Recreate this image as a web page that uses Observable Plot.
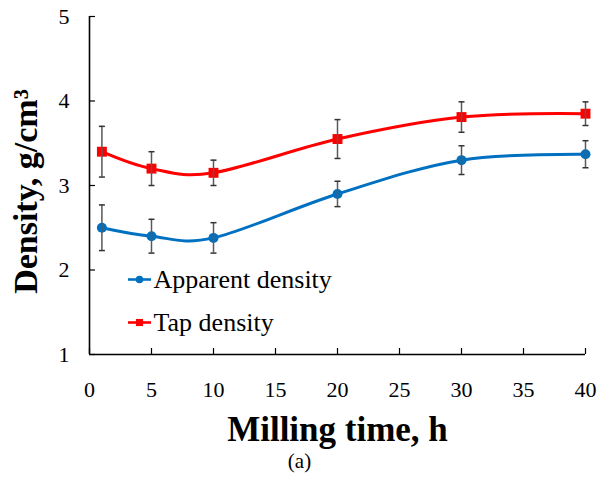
<!DOCTYPE html>
<html>
<head>
<meta charset="utf-8">
<script src="https://cdn.jsdelivr.net/npm/d3@7"></script>
<script src="https://cdn.jsdelivr.net/npm/@observablehq/plot@0.6"></script>
<style>
  html, body { margin: 0; padding: 0; background: #fff; }
</style>
</head>
<body>
<div id="chart"></div>
<script>
// Data
const hours = [1, 5, 10, 20, 30, 40];
const apparent = [2.50, 2.40, 2.38, 2.90, 3.30, 3.37];
const apparentErr = [0.27, 0.20, 0.18, 0.15, 0.17, 0.16];
const tap = [3.40, 3.20, 3.15, 3.55, 3.81, 3.85];
const tapErr = [0.30, 0.20, 0.15, 0.23, 0.18, 0.14];
const xTicks = [0, 5, 10, 15, 20, 25, 30, 35, 40];
const yTicks = [1, 2, 3, 4, 5];
const seriesNames = ["Apparent density", "Tap density"];
const xTitle = "Milling time, h";
const yTitle = "Density, g/cm³";
const caption = "(a)";

const blue = "#0070C0";
const red = "#FF0000";
const errColor = "#595959";

const rowsA = hours.map((h, i) => ({h, v: apparent[i], e: apparentErr[i]}));
const rowsT = hours.map((h, i) => ({h, v: tap[i], e: tapErr[i]}));

const capSymbol = {draw(ctx) { ctx.moveTo(-3, 0); ctx.lineTo(3, 0); }};
const swatchLine = {draw(ctx) { ctx.moveTo(-11.5, 0); ctx.lineTo(11.5, 0); }};

const chart = Plot.plot({
  width: 597,
  height: 479,
  marginLeft: 89,
  marginRight: 12,
  marginTop: 16,
  marginBottom: 125,
  x: {domain: [xTicks[0], xTicks[xTicks.length - 1]]},
  y: {domain: [yTicks[0], yTicks[yTicks.length - 1]]},
  style: {fontFamily: "'Liberation Serif', 'Times New Roman', serif", background: "white", overflow: "visible", color: "black"},
  marks: [
    Plot.axisX({ticks: xTicks, tickFormat: d3.format("d"), tickSize: -6, tickPadding: 33, fontSize: 22, label: null, strokeWidth: 1.2}),
    Plot.axisY({ticks: yTicks, tickFormat: d3.format("d"), tickSize: -6, tickPadding: 26, fontSize: 22, label: null, strokeWidth: 1.2}),
    Plot.ruleX([xTicks[0]], {stroke: "black", strokeWidth: 1.6}),
    Plot.ruleY([yTicks[0]], {stroke: "black", strokeWidth: 1.6}),
    // lines
    Plot.line(rowsA, {x: "h", y: "v", stroke: blue, strokeWidth: 3, curve: "cardinal"}),
    Plot.line(rowsT, {x: "h", y: "v", stroke: red, strokeWidth: 3, curve: "cardinal"}),
    // markers
    Plot.dot(rowsA, {x: "h", y: "v", fill: blue, r: 5, symbol: "circle"}),
    Plot.dot(rowsT, {x: "h", y: "v", fill: red, r: 5.6, symbol: "square"}),
    // error bars
    Plot.ruleX(rowsA, {x: "h", y1: d => d.v - d.e, y2: d => d.v + d.e, stroke: errColor, strokeWidth: 1.5}),
    Plot.ruleX(rowsT, {x: "h", y1: d => d.v - d.e, y2: d => d.v + d.e, stroke: errColor, strokeWidth: 1.5}),
    Plot.dot(rowsA, {x: "h", y: d => d.v + d.e, symbol: capSymbol, stroke: "#333", strokeWidth: 1.5}),
    Plot.dot(rowsA, {x: "h", y: d => d.v - d.e, symbol: capSymbol, stroke: "#333", strokeWidth: 1.5}),
    Plot.dot(rowsT, {x: "h", y: d => d.v + d.e, symbol: capSymbol, stroke: "#333", strokeWidth: 1.5}),
    Plot.dot(rowsT, {x: "h", y: d => d.v - d.e, symbol: capSymbol, stroke: "#333", strokeWidth: 1.5}),
    // legend
    Plot.dot([seriesNames[0]], {frameAnchor: "top-left", dx: 50, dy: 263, symbol: swatchLine, stroke: blue, strokeWidth: 2.6}),
    Plot.dot([seriesNames[0]], {frameAnchor: "top-left", dx: 50, dy: 263, symbol: "circle", r: 3.8, fill: blue}),
    Plot.text([seriesNames[0]], {frameAnchor: "top-left", dx: 64, dy: 263, textAnchor: "start", lineAnchor: "middle", fontSize: 26, fill: "black"}),
    Plot.dot([seriesNames[1]], {frameAnchor: "top-left", dx: 50, dy: 306, symbol: swatchLine, stroke: red, strokeWidth: 2.6}),
    Plot.dot([seriesNames[1]], {frameAnchor: "top-left", dx: 50, dy: 306, symbol: "square", r: 4, fill: red}),
    Plot.text([seriesNames[1]], {frameAnchor: "top-left", dx: 64, dy: 306, textAnchor: "start", lineAnchor: "middle", fontSize: 26, fill: "black"}),
    // titles
    Plot.text([xTitle], {frameAnchor: "bottom", dy: 75, textAnchor: "middle", lineAnchor: "middle", fontSize: 35, fontWeight: "bold", fill: "black"}),
    Plot.text([yTitle], {frameAnchor: "left", rotate: -90, dx: -63, dy: 6, textAnchor: "middle", lineAnchor: "middle", fontSize: 34, fontWeight: "bold", fill: "black"}),
    Plot.text([caption], {frameAnchor: "bottom", dx: -38, dy: 107, textAnchor: "middle", lineAnchor: "middle", fontSize: 21, fill: "black"})
  ]
});
document.getElementById("chart").appendChild(chart);
</script>
</body>
</html>
